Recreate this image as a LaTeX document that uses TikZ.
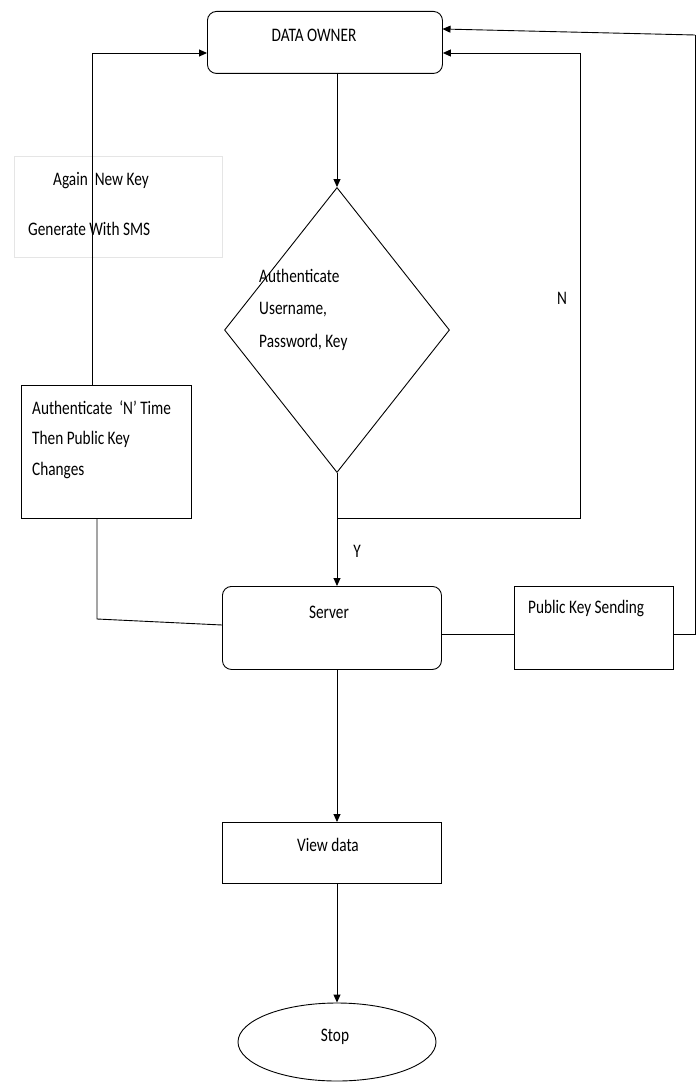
\documentclass[tikz,border=0pt]{standalone}
\usepackage{fontspec}
\setmainfont{Carlito}
\usetikzlibrary{arrows.meta,shapes.geometric}
\newcommand{\stretchtxt}[1]{\scalebox{1}[1.25]{#1}}
\begin{document}
\begin{tikzpicture}[x=1pt,y=-1pt,
  line/.style={draw=black, line width=0.9pt},
  arr/.style={line, -{Triangle[length=8pt,width=7pt]}},
  box/.style={draw=black, line width=0.9pt, anchor=north west, inner sep=0pt},
  rbox/.style={box, rounded corners=9pt},
  txt/.style={font=\fontsize{15.3}{17}\selectfont, inner sep=0pt, anchor=west}]
\useasboundingbox (0,0) rectangle (700,1086);
\fill[white] (0,0) rectangle (700,1086);
% nodes
\node[rbox, minimum width=235pt, minimum height=62pt] (do) at (207,11) {};
\node[txt, anchor=center] (dot) at (314,35) {\stretchtxt{DATA OWNER}};
\node[draw=black!10, line width=0.6pt, anchor=north west, minimum width=208pt, minimum height=101pt, inner sep=0pt] (sms) at (14,156) {};
\node[txt] (smsa) at (53,181) {\stretchtxt{Again\ \ New Key}};
\node[txt] (smsb) at (28,229) {\stretchtxt{Generate With SMS}};
\node[draw=black, line width=0.9pt, diamond, minimum width=225pt, minimum height=285pt, inner sep=0pt] (dia) at (337,330) {};
\node[txt] (d1) at (259,276) {\stretchtxt{Authenticate}};
\node[txt] (d2) at (259,310) {\stretchtxt{Username,}};
\node[txt] (d3) at (259,342) {\stretchtxt{Password, Key}};
\node[box, minimum width=170pt, minimum height=133pt] (ant) at (21,385) {};
\node[txt] (a1) at (32,408) {\stretchtxt{Authenticate\ \ ‘N’ Time}};
\node[txt] (a2) at (32,439) {\stretchtxt{Then Public Key}};
\node[txt] (a3) at (32,470) {\stretchtxt{Changes}};
\node[rbox, minimum width=219pt, minimum height=83pt] (srv) at (222,586) {};
\node[txt, anchor=center] (srvt) at (329,612) {\stretchtxt{Server}};
\node[box, minimum width=159pt, minimum height=83pt] (pks) at (514,586) {};
\node[txt] (pkst) at (528,608) {\stretchtxt{Public Key Sending}};
\node[box, minimum width=219pt, minimum height=61pt] (vd) at (222,822) {};
\node[txt, anchor=center] (vdt) at (328,845) {\stretchtxt{View data}};
\node[draw=black, line width=0.9pt, ellipse, minimum width=198pt, minimum height=78pt, inner sep=0pt] (stop) at (337,1042) {};
\node[txt, anchor=center] (stopt) at (335,1037) {\stretchtxt{Stop}};
\node[txt, anchor=center] (ylab) at (357,551) {\stretchtxt{Y}};
\node[txt, anchor=center] (nlab) at (562,298) {\stretchtxt{N}};
% coordinates
\coordinate (la) at (92,53);
\coordinate (lb) at (92,385);
\coordinate (ra) at (580,53);
\coordinate (rb) at (580,518);
\coordinate (rc) at (337,518);
\coordinate (fa) at (695,35);
\coordinate (fb) at (695,634);
\coordinate (ba) at (97,518);
\coordinate (bb) at (97,619);
\coordinate (dob) at (337,73);
\coordinate (srvt2) at (337,586);
\coordinate (srvb) at (337,669);
\coordinate (vdt2) at (337,822);
\coordinate (vdb) at (337,883);
% connectors
\draw[arr] (dob) -- (dia.north);
\draw[arr] (dia.south) -- (srvt2);
\draw[line] (rc) -- (rb) -- (ra);
\draw[arr] (ra) -- (ra -| do.east);
\draw[line] (lb) -- (la);
\draw[arr] (la) -- (la -| do.west);
\draw[line] (ba) -- (bb) -- (222,625);
\draw[line] (441,634) -- (514,634);
\draw[line] (673,634) -- (fb) -- (fa);
\draw[arr] (fa) -- (442.5,29);
\draw[arr] (srvb) -- (vdt2);
\draw[arr] (vdb) -- (stop.north);
\end{tikzpicture}
\end{document}
